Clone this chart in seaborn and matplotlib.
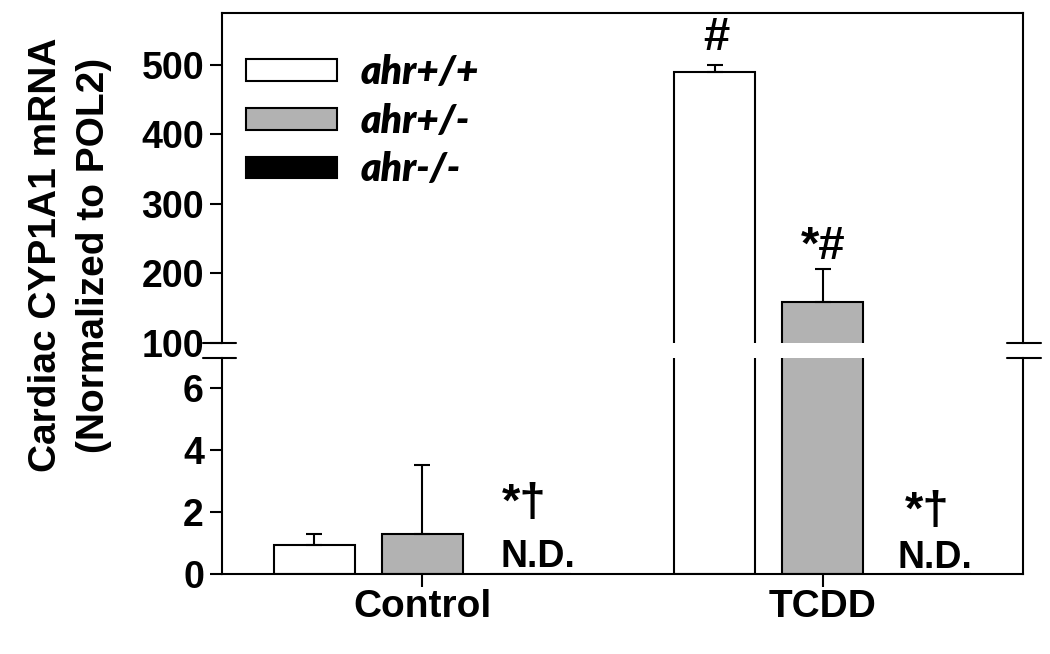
import matplotlib
matplotlib.use("Agg")
import matplotlib.pyplot as plt
import numpy as np
import pandas as pd
import seaborn as sns
from matplotlib.lines import Line2D
from matplotlib.patches import Patch

groups = ["Control", "TCDD"]
genotypes = ["ahr+/+", "ahr+/-", "ahr-/-"]
# mean and upper SE per genotype, in group order (ahr-/- not detected)
means = {
    "ahr+/+": [0.95, 490.0],
    "ahr+/-": [1.28, 158.0],
    "ahr-/-": [0.0, 0.0],
}
errors = {
    "ahr+/+": [0.34, 9.0],
    "ahr+/-": [2.25, 48.0],
    "ahr-/-": [0.0, 0.0],
}
colors = ["white", "#b2b2b2", "black"]
upper_ticks = [100, 200, 300, 400, 500]
lower_ticks = [0, 2, 4, 6]

rows = []
for g in genotypes:
    for i, grp in enumerate(groups):
        rows.append({"group": grp, "genotype": g, "value": means[g][i]})
df = pd.DataFrame(rows)

sns.set_style("ticks")
plt.rcParams["font.family"] = ["Liberation Sans", "DejaVu Sans"]
plt.rcParams["font.weight"] = "bold"
for k in ("text.color", "axes.labelcolor", "xtick.color", "ytick.color",
          "axes.edgecolor"):
    plt.rcParams[k] = "black"
FS = 27

W, H = 1050, 654
fig = plt.figure(figsize=(W / 100, H / 100), dpi=100)
left, right = 222 / W, 1023 / W
ax_up = fig.add_axes([left, 1 - 342.7 / H, right - left, (342.7 - 13.3) / H])
ax_lo = fig.add_axes([left, 1 - 574 / H, right - left, (574 - 357.7) / H])

for ax in (ax_up, ax_lo):
    sns.barplot(
        data=df, x="group", y="value", hue="genotype",
        order=groups, hue_order=genotypes, palette=colors,
        saturation=1, width=0.81, gap=0.25, errorbar=None,
        edgecolor="black", linewidth=1.5, legend=False, ax=ax,
    )
    ax.set_xlim(-0.5, 1.5)
    ax.set_xlabel("")
    ax.set_ylabel("")
    for sp in ax.spines.values():
        sp.set_linewidth(1.5)
        sp.set_color("black")
    ax.tick_params(axis="y", direction="out", length=9, width=1.5, pad=4,
                   labelsize=FS, colors="black")
    ax.tick_params(axis="x", direction="out", length=9, width=1.5, pad=2,
                   labelsize=FS + 1, colors="black")

ax_up.set_ylim(100, 574)
ax_up.set_yticks(upper_ticks)
ax_up.spines["bottom"].set_visible(False)
ax_up.tick_params(axis="x", bottom=False, labelbottom=False)

ax_lo.set_ylim(0, 6.98)
ax_lo.set_yticks(lower_ticks)
ax_lo.spines["top"].set_visible(False)

for ax in (ax_up, ax_lo):
    for lab in ax.get_yticklabels() + ax.get_xticklabels():
        lab.set_fontweight("bold")

# error bars (upper side only), positioned on the drawn bars
for ax in (ax_up, ax_lo):
    for gi, g in enumerate(genotypes):
        bars = ax.containers[gi]
        for bi, bar in enumerate(bars):
            err = errors[g][bi]
            if err <= 0:
                continue
            xc = bar.get_x() + bar.get_width() / 2
            top = bar.get_height()
            ax.errorbar(xc, top, yerr=[[0], [err]], fmt="none", ecolor="black",
                        elinewidth=1.5, capsize=6, capthick=1.5, zorder=1)

# significance labels
bx = lambda ax, gi, bi: (ax.containers[gi][bi].get_x()
                         + ax.containers[gi][bi].get_width() / 2)
SIG = 34
ax_up.text(bx(ax_up, 0, 1) + 0.005, 538, "#", ha="center", va="center",
           fontsize=SIG, fontweight="bold")
ax_up.text(bx(ax_up, 1, 1), 238, "*#", ha="center", va="center",
           fontsize=SIG, fontweight="bold")
ax_lo.text(bx(ax_lo, 2, 0) - 0.015, 2.25, "*†", ha="center", va="center",
           fontsize=SIG, fontweight="bold")
ax_lo.text(bx(ax_lo, 2, 0) + 0.02, 0.55, "N.D.", ha="center", va="center",
           fontsize=FS, fontweight="bold")
ax_lo.text(bx(ax_lo, 2, 1) - 0.01, 1.99, "*†", ha="center", va="center",
           fontsize=SIG, fontweight="bold")
ax_lo.text(bx(ax_lo, 2, 1) + 0.01, 0.52, "N.D.", ha="center", va="center",
           fontsize=FS, fontweight="bold")

# axis break marks
def hmark(y_px, x0_px, x1_px):
    fig.add_artist(Line2D([x0_px / W, x1_px / W], [1 - y_px / H, 1 - y_px / H],
                          transform=fig.transFigure, color="black", lw=1.5))

for y in (342.7, 357.7):
    hmark(y, 203, 236)
    hmark(y, 1007, 1041)

# y label
fig.text(70 / W, 1 - 255 / H, "Cardiac CYP1A1 mRNA\n(Normalized to POL2)",
         rotation=90, ha="center", va="center", fontsize=28,
         fontweight="bold", linespacing=1.45)

# legend
handles = [Patch(facecolor=c, edgecolor="black", linewidth=1.5) for c in colors]
fig.legend(handles, genotypes, loc="upper left",
           bbox_to_anchor=(246 / W, 1 - 54 / H), frameon=False,
           borderpad=0, borderaxespad=0, handlelength=2.35, handleheight=0.48,
           handletextpad=0.6, labelspacing=0.3,
           prop={"family": ["Lato", "DejaVu Sans"], "weight": "heavy",
                 "style": "italic", "size": 28})

fig.savefig("out.png", dpi=100)
